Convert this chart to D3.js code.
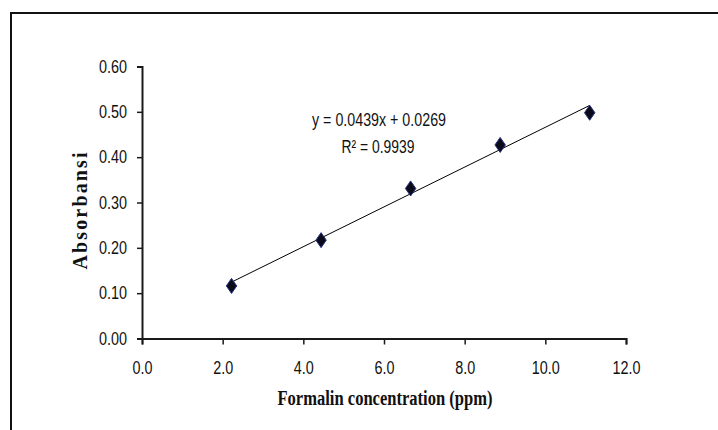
<!DOCTYPE html>
<html>
<head>
<meta charset="utf-8">
<script src="https://cdn.jsdelivr.net/npm/d3@7"></script>
<style>
  body { margin: 0; background: #fff; }
  svg { display: block; }
</style>
</head>
<body>
<svg width="718" height="430"></svg>
<script>
// calibration data (formalin standard)
var concentration = [2.22, 4.44, 6.66, 8.88, 11.1];
var absorbance = [0.116, 0.217, 0.331, 0.427, 0.498];

var xTicks = [0, 2, 4, 6, 8, 10, 12];
var yTicks = [0, 0.1, 0.2, 0.3, 0.4, 0.5, 0.6];

// linear trendline as printed on the chart
var slope = 0.0439;
var intercept = 0.0269;
var rSquared = 0.9939;

var xLabel = "Formalin concentration (ppm)";
var yLabel = "Absorbansi";

var svg = d3.select("svg");
var tickFont = "'Liberation Sans', Arial, sans-serif";
var serifFont = "'Liberation Serif', 'Times New Roman', serif";

// narrow, Calibri-like look: squeeze text to a width per character
function narrowWidth(s) {
  var w = 0;
  for (var i = 0; i < s.length; i++) {
    var c = s[i];
    if (c === ".") w += 4;
    else if (c === " ") w += 3.3;
    else w += 8;
  }
  return w;
}

// outer frame (runs off the right and bottom edges)
svg.append("rect")
   .attr("x", 11).attr("y", 13)
   .attr("width", 730).attr("height", 440)
   .attr("fill", "none")
   .attr("stroke", "#111")
   .attr("stroke-width", 2);

var xScale = d3.scaleLinear().domain([0, 12]).range([142, 626]);
var yScale = d3.scaleLinear().domain([0, 0.6]).range([338.5, 66.5]);

var xAxis = svg.append("g")
  .attr("transform", "translate(0," + yScale(0) + ")")
  .call(d3.axisBottom(xScale).tickValues(xTicks).tickSize(6).tickPadding(17)
          .tickFormat(d3.format(".1f")));

var yAxis = svg.append("g")
  .attr("transform", "translate(" + xScale(0) + ",0)")
  .call(d3.axisLeft(yScale).tickValues(yTicks).tickSize(5).tickPadding(10)
          .tickFormat(d3.format(".2f")));

[xAxis, yAxis].forEach(function(ax) {
  ax.select(".domain").attr("stroke", "#1a1a1a").attr("stroke-width", 2);
  ax.selectAll(".tick line").attr("stroke", "#1a1a1a").attr("stroke-width", 1.5);
  ax.selectAll(".tick text")
    .attr("fill", "#111")
    .style("font-family", tickFont)
    .style("font-size", "17.5px")
    .attr("lengthAdjust", "spacingAndGlyphs")
    .each(function() {
      d3.select(this).attr("textLength", narrowWidth(this.textContent));
    });
});

// trendline over the data range
var x0 = d3.min(concentration), x1 = d3.max(concentration);
svg.append("line")
   .attr("x1", xScale(x0)).attr("y1", yScale(slope * x0 + intercept))
   .attr("x2", xScale(x1)).attr("y2", yScale(slope * x1 + intercept))
   .attr("stroke", "#000")
   .attr("stroke-width", 1);

// diamond markers
var points = concentration.map(function(c, i) { return { x: c, y: absorbance[i] }; });

svg.append("g").selectAll("path")
   .data(points)
   .enter().append("path")
   .attr("d", "M0,-7.5L5.2,0L0,7.5L-5.2,0Z")
   .attr("transform", function(d) {
     return "translate(" + xScale(d.x) + "," + yScale(d.y) + ")";
   })
   .attr("fill", "#0a0a1a")
   .attr("stroke", "#22307a")
   .attr("stroke-width", 1);

// equation
svg.append("text")
   .attr("x", 379).attr("y", 126)
   .attr("text-anchor", "middle")
   .attr("textLength", 134)
   .attr("lengthAdjust", "spacingAndGlyphs")
   .style("font-family", tickFont)
   .style("font-size", "17.5px")
   .attr("fill", "#111")
   .text("y = " + slope.toFixed(4) + "x + " + intercept.toFixed(4));

svg.append("text")
   .attr("x", 378).attr("y", 153)
   .attr("text-anchor", "middle")
   .attr("textLength", 73)
   .attr("lengthAdjust", "spacingAndGlyphs")
   .style("font-family", tickFont)
   .style("font-size", "17.5px")
   .attr("fill", "#111")
   .text("R\u00b2 = " + rSquared.toFixed(4));

// axis titles
svg.append("text")
   .attr("x", 385)
   .attr("y", 405)
   .attr("text-anchor", "middle")
   .attr("textLength", 215)
   .attr("lengthAdjust", "spacingAndGlyphs")
   .style("font-family", serifFont)
   .style("font-weight", "bold")
   .style("font-size", "20px")
   .attr("fill", "#111")
   .text(xLabel);

svg.append("text")
   .attr("transform", "translate(87,211) rotate(-90)")
   .attr("text-anchor", "middle")
   .attr("textLength", 117)
   .attr("lengthAdjust", "spacing")
   .style("font-family", serifFont)
   .style("font-weight", "bold")
   .style("font-size", "20px")
   .attr("fill", "#111")
   .text(yLabel);
</script>
</body>
</html>
